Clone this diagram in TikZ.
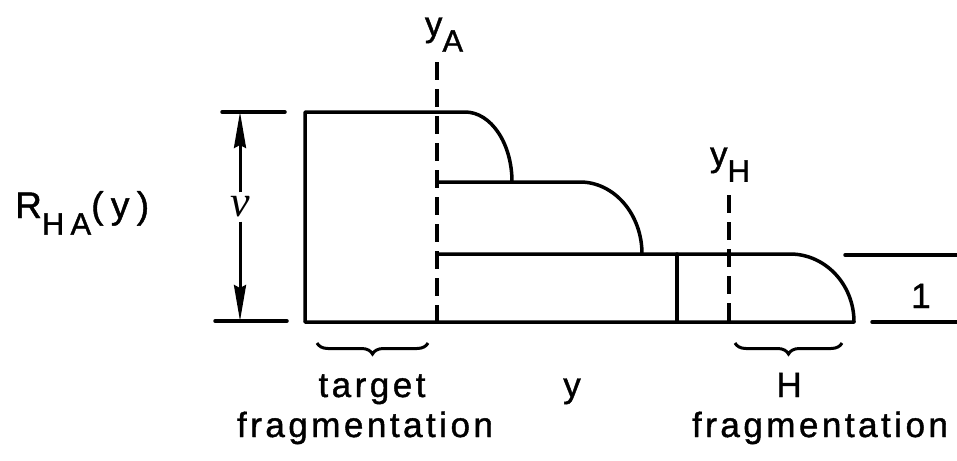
\documentclass[tikz,border=0pt]{standalone}
\usepackage{fontspec}
\setmainfont{Liberation Sans}[LetterSpace=10,FakeBold=1.2]
\newfontfamily\greekfont{Liberation Serif}
\usetikzlibrary{arrows.meta,decorations.pathreplacing}
\newcommand{\lowsub}[1]{\raisebox{-0.45em}{\fontsize{31}{34}\selectfont #1}}
\tikzset{
  lbl/.style={inner sep=0pt,font=\fontsize{35}{40}\selectfont},
  outline/.style={line width=3.5pt,line cap=round,line join=round},
  guide/.style={line width=3.5pt,dash pattern=on 18pt off 9pt},
  dimline/.style={line width=3pt,-{Stealth[length=36pt,width=12pt,inset=3pt]}},
  underbrc/.style={line width=3pt,decorate,decoration={brace,amplitude=11pt}},
}

\begin{document}
\begin{tikzpicture}[x=1pt,y=-1pt]
  \useasboundingbox (0,0) rectangle (957,460);

  % plateau levels
  \draw[outline] (305,322) -- (305,112) -- (465,112)
    arc[start angle=-90,end angle=0,x radius=47,y radius=70];
  \draw[outline] (437,182) -- (580,182)
    arc[start angle=-90,end angle=0,x radius=62,y radius=72];
  \draw[outline] (437,254) -- (790,254)
    arc[start angle=-90,end angle=0,x radius=64,y radius=68]
    -- (305,322);
  \draw[outline] (677,254) -- (677,322);

  % y_A and y_H
  \draw[guide] (437,62) -- (437,326);
  \draw[guide] (729,195) -- (729,328);
  \node[lbl,anchor=base] (yA) at (444,36) {y\lowsub{A}};
  \node[lbl,anchor=base] (yH) at (730,166) {y\lowsub{H}};

  % height nu
  \draw[outline] (222,112) -- (285,112);
  \draw[outline] (215,321) -- (287,321);
  \coordinate (dimtop) at (240,112);
  \coordinate (dimbot) at (240,321);
  \node[inner sep=4pt,font=\fontsize{44}{46}\selectfont\greekfont\itshape] (nu) at (240,207) {ν};
  \draw[dimline] (nu.north) -- (dimtop);
  \draw[dimline] (nu.south) -- (dimbot);
  \node[lbl,anchor=base west,font=\fontsize{37}{40}\selectfont\addfontfeature{LetterSpace=20}]
    (RHA) at (15,218) {R\lowsub{HA}(y)};

  % unit step on the right
  \draw[outline] (845,255) -- (957,255);
  \draw[outline] (872,322) -- (957,322);
  \node[lbl,anchor=base] (one) at (921,308) {1};

  % fragmentation regions
  \draw[underbrc] (428,343) -- (317,343);
  \draw[underbrc] (842,343) -- (735,343);
  \node[lbl,anchor=base] (target) at (372,397) {target};
  \node[lbl,anchor=base] (tfrag) at (365,437) {fragmentation};
  \node[lbl,anchor=base] (rap) at (572,397) {y};
  \node[lbl,anchor=base] (H) at (789,397) {H};
  \node[lbl,anchor=base] (hfrag) at (820,437) {fragmentation};

\end{tikzpicture}
\end{document}
